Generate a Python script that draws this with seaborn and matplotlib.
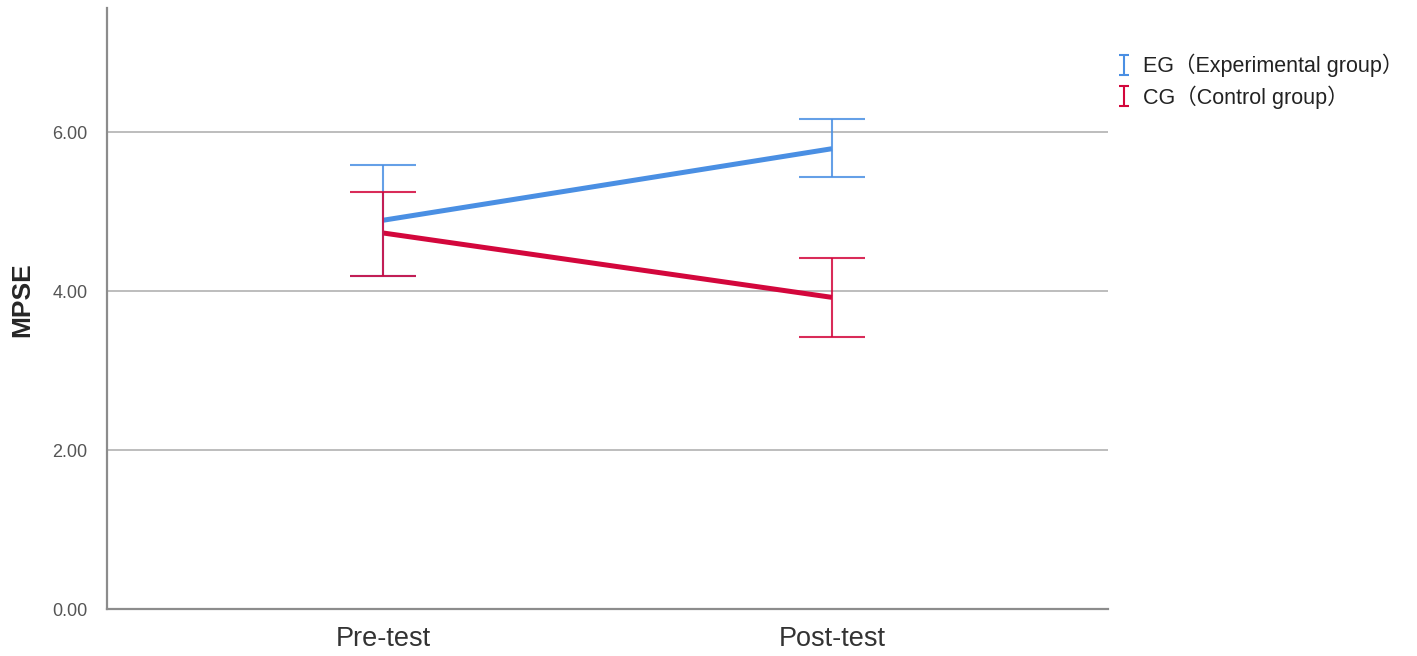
import pandas as pd
import matplotlib
matplotlib.use("Agg")
import matplotlib.pyplot as plt
import seaborn as sns
from matplotlib.lines import Line2D
from matplotlib.path import Path

# Data
times = ["Pre-test", "Post-test"]
groups = ["EG\uff08Experimental group\uff09", "CG\uff08Control group\uff09"]
eg_mean = [4.89, 5.79]
eg_low = [4.19, 5.43]
eg_high = [5.58, 6.16]
cg_mean = [4.73, 3.92]
cg_low = [4.19, 3.42]
cg_high = [5.24, 4.42]
colors = ["#4A8FE3", "#D3073C"]

df = pd.DataFrame({
    "time": times * 2,
    "group": [groups[0]] * 2 + [groups[1]] * 2,
    "mean": eg_mean + cg_mean,
    "low": eg_low + cg_low,
    "high": eg_high + cg_high,
})

sns.set_style("white")
plt.rcParams["font.family"] = ["Liberation Sans", "Noto Sans CJK SC", "DejaVu Sans"]

fig = plt.figure(figsize=(14.17, 6.56), dpi=100)
ax = fig.add_axes([107 / 1417, 1 - 609 / 656, 1001 / 1417, 601 / 656])

# horizontal reference lines
for yv in [2, 4, 6]:
    ax.axhline(yv, color="#B8B8B8", lw=1.3, zorder=0)

sns.pointplot(data=df, x="time", y="mean", hue="group", order=times,
              hue_order=groups, palette=colors, errorbar=None, markers="",
              linewidth=3.6, ax=ax, legend=False)
for ln in ax.lines:
    ln.set_solid_capstyle("butt")

for g, c in zip(groups, colors):
    sub = df[df["group"] == g].set_index("time").loc[times]
    pos = list(range(len(times)))
    ax.errorbar(pos, sub["mean"], yerr=[sub["mean"] - sub["low"], sub["high"] - sub["mean"]],
                fmt="none", ecolor=c, elinewidth=1.5, capsize=24, capthick=1.5, alpha=0.85,
                zorder=3)

ax.set_xlim(-0.615, 1.615)
ax.set_ylim(0, 7.56)
ax.set_yticks([0, 2, 4, 6])
ax.set_yticklabels(["0.00", "2.00", "4.00", "6.00"])
ax.tick_params(axis="y", length=0, labelsize=13, labelcolor="#555555", pad=14)
ax.tick_params(axis="x", length=0, labelsize=19.5, labelcolor="#333333", pad=12)
ax.set_xlabel("")
ax.set_ylabel("MPSE", fontsize=19, fontweight="bold")
ax.yaxis.set_label_coords(-0.073, 0.514)
for s in ["top", "right"]:
    ax.spines[s].set_visible(False)
for s in ["left", "bottom"]:
    ax.spines[s].set_color("#8C8C8C")
    ax.spines[s].set_linewidth(1.6)

# legend with "I" shaped error-bar glyphs
i_path = Path([(-0.45, -1), (0.45, -1), (0, -1), (0, 1), (-0.45, 1), (0.45, 1)],
              [Path.MOVETO, Path.LINETO, Path.MOVETO, Path.LINETO, Path.MOVETO, Path.LINETO])
handles = [Line2D([], [], ls="none", marker=i_path, markersize=15, markerfacecolor="none",
                  markeredgecolor=c, markeredgewidth=1.5) for c in colors]
ax.legend(handles, groups, loc="upper left", bbox_to_anchor=(0.995, 0.945), frameon=False,
          fontsize=15.5, handlelength=0.75, handletextpad=0.5, labelspacing=0.36,
          borderaxespad=0.2, labelcolor="#222222")

fig.savefig("out.png", dpi=100)
